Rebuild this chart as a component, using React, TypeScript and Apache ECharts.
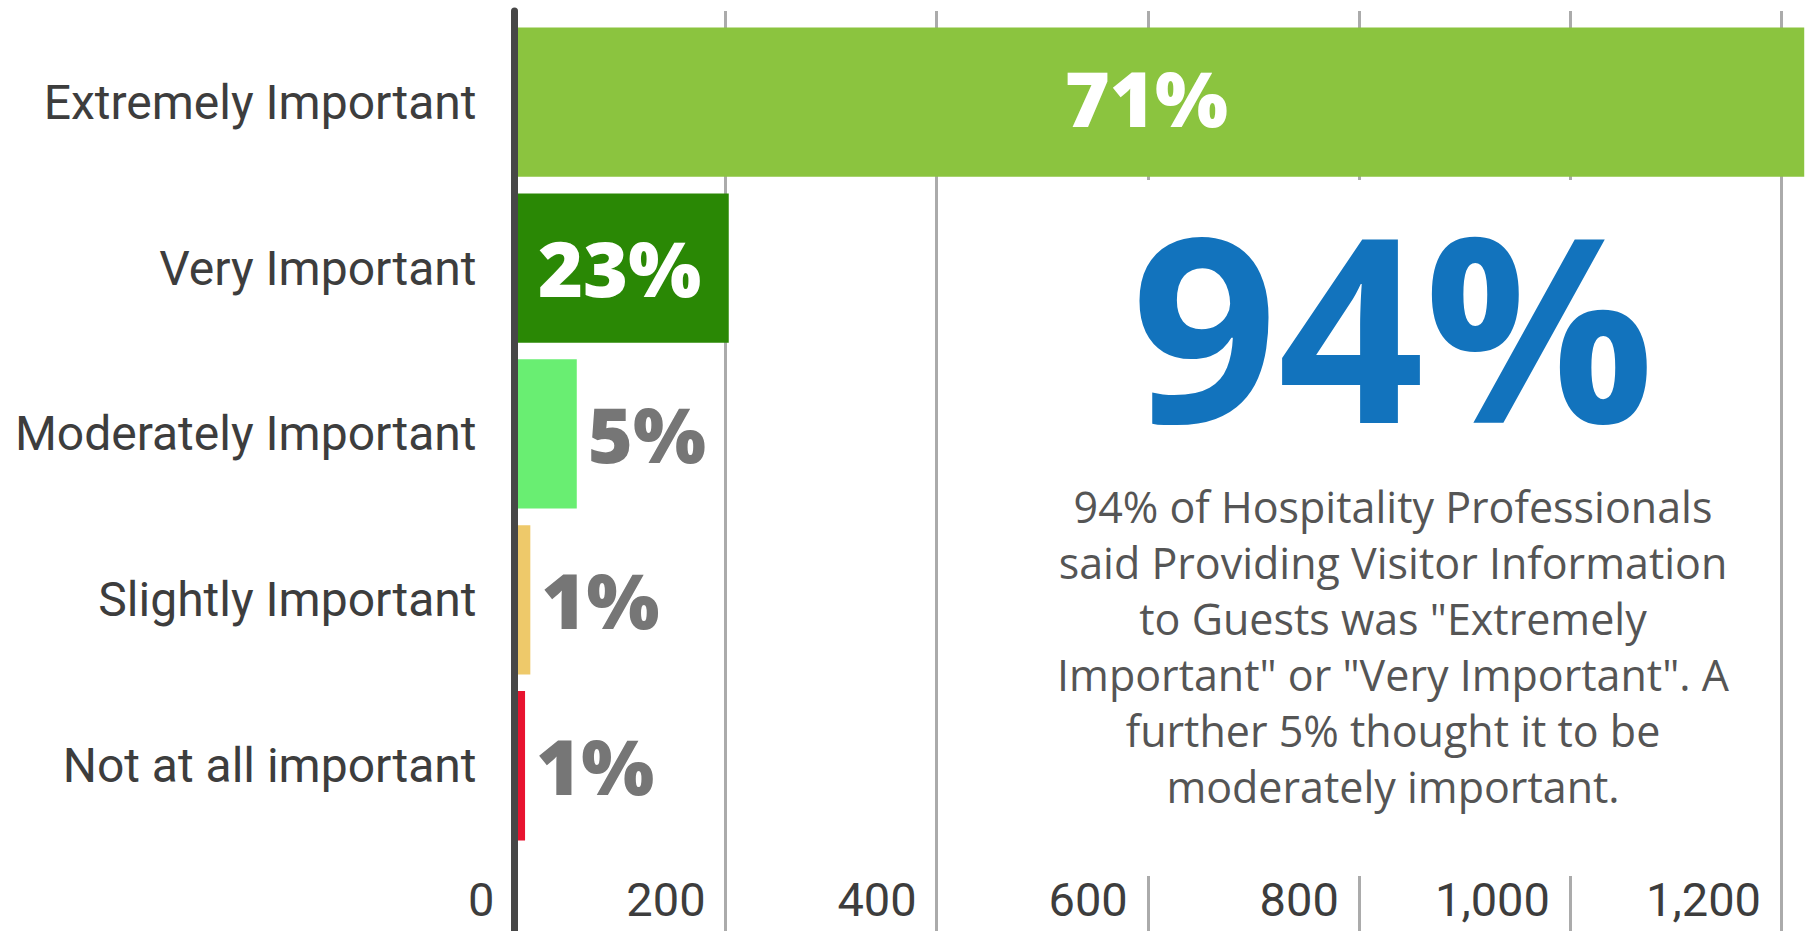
import React, { useEffect, useRef } from "react";
import * as echarts from "echarts";

const categories = [
  "Extremely Important",
  "Very Important",
  "Moderately Important",
  "Slightly Important",
  "Not at all important",
];
const values = [1222, 203, 59, 15, 10];
const pctLabels = ["71%", "23%", "5%", "1%", "1%"];
const xTicks = [0, 200, 400, 600, 800, 1000, 1200];
const headline = "94%";
const paragraphLines = [
  "94% of Hospitality Professionals",
  "said Providing Visitor Information",
  'to Guests was "Extremely',
  'Important" or "Very Important". A',
  "further 5% thought it to be",
  "moderately important.",
];

const palette = ["#8BC43F", "#2A8805", "#69EE72", "#EEC96A", "#E8132F"];
const insideLabel = [true, true, false, false, false];

const GRID_LEFT = 514.5;
const GRID_RIGHT = 27;
const X_MAX = xTicks[xTicks.length - 1];

export default function App() {
  const ref = useRef<HTMLDivElement>(null);
  useEffect(() => {
    if (!ref.current) return;
    const chart = echarts.init(ref.current, undefined, { renderer: "svg" });
    const barData = values.map((v, i) => ({
      value: v,
      itemStyle: { color: palette[i] },
      label: insideLabel[i]
        ? {
            show: true,
            position: "inside",
            color: "#ffffff",
            offset: i === 0 ? [-13, -5] : [-2, -1],
          }
        : {
            show: true,
            position: "right",
            distance: 11,
            color: "#767676",
          },
    }));
    chart.setOption({
      animation: false,
      backgroundColor: "#ffffff",
      grid: [
        { left: GRID_LEFT, right: GRID_RIGHT, top: 11, bottom: 0 },
        { left: GRID_LEFT, right: GRID_RIGHT, top: 19.2, bottom: 82.3 },
      ],
      xAxis: [
        {
          gridIndex: 0,
          type: "value",
          min: 0,
          max: X_MAX,
          interval: 200,
          z: 1,
          axisLine: { show: false },
          axisTick: { show: false },
          splitLine: { show: true, lineStyle: { color: "#ABABAB", width: 3 } },
          axisLabel: {
            inside: true,
            margin: 8,
            align: "right",
            padding: [0, 20, 0, 0],
            fontFamily: "Roboto",
            fontSize: 47,
            color: "#3d3d3d",
            formatter: (v: number) => v.toLocaleString("en-US"),
          },
        },
        {
          gridIndex: 1,
          type: "value",
          min: 0,
          max: X_MAX,
          show: false,
        },
      ],
      yAxis: [
        {
          gridIndex: 0,
          type: "category",
          data: categories,
          z: 6,
          position: "left",
          axisLine: { show: true, lineStyle: { color: "#474747", width: 7 } },
          axisTick: { show: false },
          axisLabel: { show: false },
          splitLine: { show: false },
        },
        {
          gridIndex: 1,
          type: "category",
          data: categories,
          inverse: true,
          axisLine: { show: false },
          axisTick: { show: false },
          splitLine: { show: false },
          axisLabel: {
            margin: 38,
            fontFamily: "Roboto",
            fontSize: 48,
            color: "#3d3d3d",
          },
        },
      ],
      series: [
        {
          type: "bar",
          xAxisIndex: 1,
          yAxisIndex: 1,
          data: barData,
          barCategoryGap: "10%",
          clip: false,
          z: 3,
          label: {
            show: true,
            fontFamily: "Open Sans",
            fontWeight: 800,
            fontSize: 77,
            formatter: (p: any) => pctLabels[p.dataIndex],
          },
        },
      ],
      graphic: [
        {
          type: "rect",
          z: 100,
          shape: { x: 1040, y: 180, width: 705, height: 696 },
          style: { fill: "#ffffff" },
        },
        {
          type: "text",
          z: 101,
          x: 1393,
          y: 323,
          style: {
            text: headline,
            align: "center",
            verticalAlign: "middle",
            fontFamily: "Open Sans",
            fontWeight: 700,
            fontSize: 256,
            lineHeight: 180,
            fill: "#1273BD",
          },
        },
        {
          type: "text",
          z: 101,
          x: 1393,
          y: 646,
          style: {
            text: paragraphLines.join("\n"),
            align: "center",
            verticalAlign: "middle",
            fontFamily: "Open Sans",
            fontSize: 43,
            lineHeight: 56,
            fill: "#555555",
          },
        },
      ],
    });
    return () => chart.dispose();
  }, []);
  return (
    <div
      ref={ref}
      style={{ position: "absolute", left: 0, top: 0, width: 1808, height: 931 }}
    />
  );
}
